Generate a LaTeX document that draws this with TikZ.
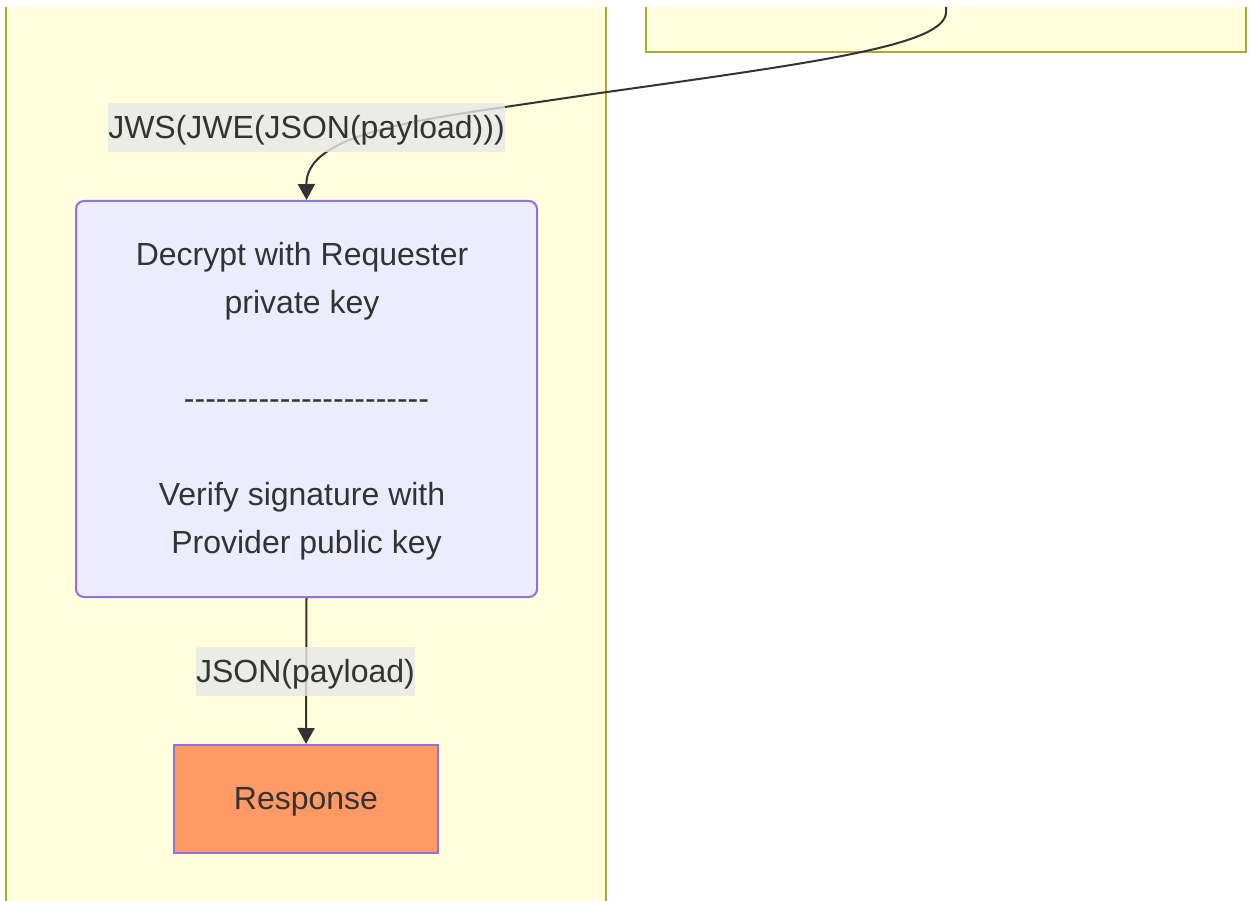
\documentclass[tikz,border=0pt]{standalone}
\usepackage{fontspec}
\setmainfont{Liberation Sans}
\usetikzlibrary{arrows.meta}
\definecolor{clfill}{HTML}{FFFFDE}
\definecolor{clline}{HTML}{AAAA33}
\definecolor{ndfill}{HTML}{ECECFF}
\definecolor{ndline}{HTML}{9370DB}
\definecolor{txt}{HTML}{333333}
\definecolor{lblbg}{RGB}{232,232,232}
\definecolor{respfill}{HTML}{FF9966}
\newcommand\dsh{-\kern0pt}
\newcommand\tsp{\rule{8.9pt}{0pt}}
\tikzset{
  bigtext/.style={font=\fontsize{32}{48}\selectfont, text=txt},
  procbox/.style={bigtext, draw=ndline, fill=ndfill, line width=2pt, rounded corners=8pt, align=center, inner sep=0pt},
  respbox/.style={bigtext, draw=ndline, fill=respfill, line width=2pt, inner sep=0pt, text height=27pt, text depth=6.5pt},
  edgelbl/.style={bigtext, fill=lblbg, fill opacity=0.8, text opacity=1, inner sep=0pt, minimum height=49pt, text height=29pt, text depth=6.5pt},
  flow/.style={draw=txt, line width=2pt, -{Triangle[length=16pt,width=17pt]}},
}
\begin{document}
\begin{tikzpicture}[x=1pt,y=-1pt]
\useasboundingbox (0,0) rectangle (1249,901);
% clusters
\fill[clfill] (6,7) rectangle (606,901);
\draw[clline, line width=2pt] (6,7) -- (6,901);
\draw[clline, line width=2pt] (606,7) -- (606,901);
\fill[clfill] (646,7) rectangle (1246,52);
\draw[clline, line width=2pt] (646,7) -- (646,52) -- (1246,52) -- (1246,7);
% nodes
\node[procbox, minimum width=461pt, minimum height=396pt] (dec) at (306.5,399)
  {\rule{0pt}{28pt}Decrypt with Requester\tsp\\ private key\tsp\\ \strut\\ \dsh\dsh\dsh\dsh\dsh\dsh\dsh\dsh\dsh\dsh\dsh\dsh\dsh\dsh\dsh\dsh\dsh\dsh\dsh\dsh\dsh\dsh-\\ \strut\\ Verify signature with\tsp\\ Provider public key};
\node[respbox, minimum width=264pt, minimum height=108pt] (resp) at (306,799) {Response};
\coordinate (src) at (946,7);
% edges
\draw[flow] (src) -- (946,12) .. controls (946,45) and (820,62) .. (600,93) -- (505,107) .. controls (400,122) and (306,138) .. (dec.north);
\draw[flow] (dec.south) -- (resp.north);
% edge labels
\node[edgelbl] (l1) at (306.5,127.5) {JWS(JWE(JSON(payload)))};
\node[edgelbl] (l2) at (305.5,671) {JSON(payload)};
\end{tikzpicture}
\end{document}
